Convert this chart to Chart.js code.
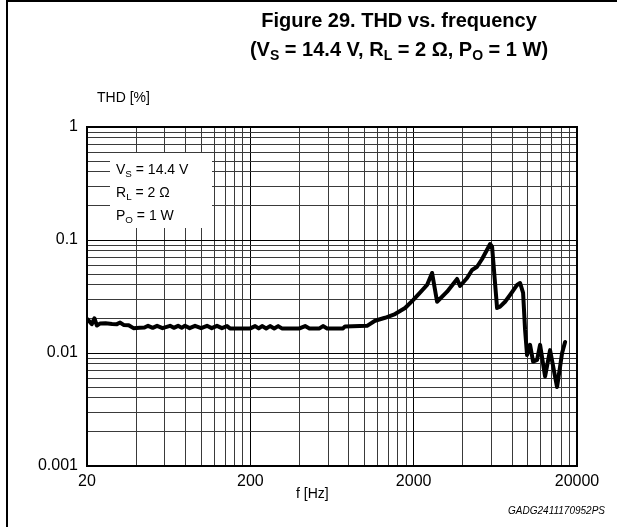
<!DOCTYPE html>
<html><head><meta charset="utf-8">
<script src="https://cdn.jsdelivr.net/npm/chart.js@4"></script>
<style>
body{margin:0;background:#fff;}
#wrap{position:relative;width:617px;height:527px;overflow:hidden;font-family:"Liberation Sans",Arial,sans-serif;color:#000;background:#fff;}
canvas{position:absolute;left:0;top:0;}
.t{position:absolute;white-space:nowrap;}
.sub{font-size:0.7em;position:relative;top:0.3em;}
#frameL{position:absolute;left:6px;top:0;width:2px;height:527px;background:#000;}
#frameT{position:absolute;left:6px;top:0;width:611px;height:2px;background:#000;}
#legbox{position:absolute;left:110px;top:153px;width:102px;height:75px;background:#fff;font-size:14px;}
#legbox div{position:absolute;left:6px;line-height:16px;}
</style></head><body>
<div id="wrap">
<canvas id="c" width="617" height="527"></canvas>
<div id="frameL"></div><div id="frameT"></div>
<div class="t" style="left:149px;width:500px;top:7px;text-align:center;font-size:20px;font-weight:bold;line-height:26px;">Figure 29. THD vs. frequency</div>
<div class="t" style="left:149px;width:500px;top:36px;text-align:center;font-size:20px;font-weight:bold;line-height:26px;">(V<span class="sub">S</span> = 14.4 V, R<span class="sub">L</span> = 2 Ω, P<span class="sub">O</span> = 1 W)</div>
<div class="t" style="left:97px;top:89px;font-size:14px;line-height:16px;">THD [%]</div>
<div id="legbox">
  <div style="top:8px;">V<span class="sub">S</span> = 14.4 V</div>
  <div style="top:31px;">R<span class="sub">L</span> = 2 Ω</div>
  <div style="top:54px;">P<span class="sub">O</span> = 1 W</div>
</div>
<div class="t" style="left:296px;top:485px;font-size:14px;line-height:16px;">f [Hz]</div>
<div class="t" style="right:12px;top:505px;font-size:10px;font-style:italic;line-height:12px;">GADG2411170952PS</div>
</div>
<script>
const freqHz = [20, 20.7, 21.4, 22.2, 23.0, 24.0, 26.0, 28.5, 30.5, 31.9, 33.5, 36.0, 38.5, 42, 45, 47.3, 50.5, 53.7, 58, 64.5, 68, 72.2, 76, 79.6, 85, 91.7, 100, 108.6, 116, 125, 134, 144, 150, 200, 214, 225, 236, 250, 264, 280, 296, 312, 400, 433, 460, 530, 557, 590, 739, 760, 1037, 1160, 1336, 1538, 1772, 1983, 2188, 2416, 2592, 2782, 3204, 3688, 3846, 4246, 4556, 4888, 5248, 5876, 6040, 6482, 6763, 7256, 7782, 8594, 8966, 9354, 9620, 9892, 10320, 10770, 11394, 11884, 12756, 13680, 15100, 16210, 16910];
const thdPct = [0.0200, 0.0190, 0.0180, 0.0203, 0.0175, 0.0182, 0.0183, 0.0181, 0.0180, 0.0186, 0.0177, 0.0176, 0.0166, 0.0167, 0.0168, 0.0174, 0.0167, 0.0174, 0.0166, 0.0174, 0.0167, 0.0174, 0.0167, 0.0174, 0.0166, 0.0174, 0.0166, 0.0174, 0.0166, 0.0174, 0.0166, 0.0173, 0.0165, 0.0165, 0.0173, 0.0165, 0.0173, 0.0165, 0.0173, 0.0165, 0.0173, 0.0165, 0.0165, 0.0173, 0.0165, 0.0165, 0.0173, 0.0165, 0.0165, 0.0172, 0.0174, 0.0193, 0.0205, 0.0221, 0.0250, 0.0294, 0.0342, 0.0400, 0.0511, 0.0284, 0.0349, 0.0452, 0.0392, 0.0461, 0.0543, 0.0580, 0.0679, 0.0922, 0.0873, 0.0250, 0.0257, 0.0284, 0.0326, 0.0400, 0.0416, 0.0340, 0.0160, 0.0096, 0.0118, 0.0084, 0.0087, 0.0118, 0.0062, 0.0106, 0.0050, 0.0100, 0.0125];
const xTickValues = [20, 200, 2000, 20000];
const xTickLabels = ['20', '200', '2000', '20000'];
const yTickValues = [0.001, 0.01, 0.1, 1];
const yTickLabels = ['0.001', '0.01', '0.1', '1'];

function gridValues(starts) {
  const out = [];
  for (let i = 0; i < starts.length - 1; i++) {
    for (let k = 1; k <= 9; k++) out.push(starts[i] * k);
  }
  out.push(starts[starts.length - 1]);
  return out;
}
function labelFor(v, vals, labels) {
  for (let i = 0; i < vals.length; i++) if (Math.abs(v / vals[i] - 1) < 1e-6) return labels[i];
  return '';
}
const font = {family: '"Liberation Sans", Arial, sans-serif', size: 16};

const framePlugin = {
  id: 'frame',
  afterDraw(chart) {
    const a = chart.chartArea, ctx = chart.ctx;
    ctx.save();
    ctx.strokeStyle = '#000';
    ctx.lineWidth = 2;
    ctx.strokeRect(a.left, a.top, a.right - a.left, a.bottom - a.top);
    ctx.restore();
  }
};

new Chart(document.getElementById('c'), {
  type: 'line',
  data: {
    datasets: [{
      data: freqHz.map((f, i) => ({x: f, y: thdPct[i]})),
      borderColor: '#000',
      borderWidth: 4,
      pointRadius: 0,
      tension: 0,
      borderJoinStyle: 'round',
      borderCapStyle: 'round'
    }]
  },
  options: {
    responsive: false,
    animation: false,
    layout: {padding: {left: 10, top: 127, right: 40, bottom: 31}},
    plugins: {legend: {display: false}, tooltip: {enabled: false}, title: {display: false}},
    scales: {
      x: {
        type: 'logarithmic', min: 20, max: 20000,
        afterBuildTicks: s => { s.ticks = gridValues(xTickValues).map(v => ({value: v})); },
        afterFit: s => { s.height = 30; },
        ticks: {autoSkip: false, maxRotation: 0, padding: 6, color: '#000', font,
          callback: v => labelFor(v, xTickValues, xTickLabels)},
        grid: {drawTicks: false, lineWidth: 1,
          color: c => labelFor(c.tick.value, xTickValues, xTickLabels) ? '#000' : '#3a3a3a'},
        border: {display: false}
      },
      y: {
        type: 'logarithmic', min: 0.001, max: 1,
        afterBuildTicks: s => { s.ticks = gridValues(yTickValues).map(v => ({value: v})); },
        afterFit: s => { s.width = 77; },
        ticks: {autoSkip: false, padding: 9, color: '#000', font,
          callback: v => labelFor(v, yTickValues, yTickLabels)},
        grid: {drawTicks: false, lineWidth: 1,
          color: c => labelFor(c.tick.value, yTickValues, yTickLabels) ? '#000' : '#3a3a3a'},
        border: {display: false}
      }
    }
  },
  plugins: [framePlugin]
});
</script>
</body></html>
